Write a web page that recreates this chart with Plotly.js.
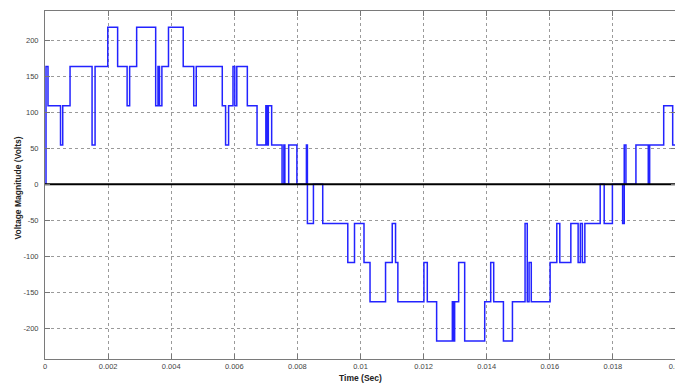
<!DOCTYPE html>
<html>
<head>
<meta charset="utf-8">
<script src="https://cdn.plot.ly/plotly-3.0.1.min.js"></script>
<style>
  html, body { margin: 0; padding: 0; overflow: hidden; background: #fff; }
  #chart { width: 676px; height: 383px; }
</style>
</head>
<body>
<div id="chart"></div>
<script>
// Inverter output: switching instants (s) and the voltage level (V) held from each instant to the next
const switchTimes = [
  0, 0.000032, 0.000095, 0.000492, 0.000562, 0.000794, 0.001492, 0.001587, 0.001990, 0.002302,
  0.002603, 0.002683, 0.002905, 0.003508, 0.003581, 0.003629, 0.003705, 0.003914, 0.004381, 0.004714,
  0.004794, 0.005619, 0.005724, 0.005819, 0.005959, 0.006016, 0.006079, 0.006413, 0.006721, 0.007000,
  0.007048, 0.007079, 0.007184, 0.007514, 0.007571, 0.007603, 0.007724, 0.007984, 0.008286, 0.008317,
  0.008508, 0.008803, 0.009597, 0.009810, 0.010111, 0.010302, 0.010794, 0.011006, 0.011111, 0.011184,
  0.012010, 0.012117, 0.012413, 0.012911, 0.012952, 0.012984, 0.013111, 0.013302, 0.013937, 0.014127,
  0.014222, 0.014530, 0.014816, 0.015216, 0.015286, 0.015343, 0.015413, 0.016010, 0.016222, 0.016317,
  0.016667, 0.016898, 0.016968, 0.017032, 0.017111, 0.017597, 0.017724, 0.017984, 0.018308, 0.018359,
  0.018413, 0.018730, 0.019121, 0.019165, 0.019610, 0.019895, 0.020000
];
const outputVolts = [
  0, 163.5, 109, 54.5, 109, 163.5, 54.5, 163.5, 218, 163.5,
  109, 163.5, 218, 109, 163.5, 109, 163.5, 218, 163.5, 109,
  163.5, 109, 54.5, 109, 163.5, 109, 163.5, 109, 54.5, 109,
  54.5, 109, 54.5, 0, 54.5, 0, 54.5, 0, 54.5, -54.5,
  0, -54.5, -109, -54.5, -109, -163.5, -109, -54.5, -109, -163.5,
  -109, -163.5, -218, -163.5, -218, -163.5, -109, -218, -163.5, -109,
  -163.5, -218, -163.5, -54.5, -163.5, -109, -163.5, -109, -54.5, -109,
  -54.5, -109, -54.5, -109, -54.5, 0, -54.5, 0, -54.5, 54.5,
  0, 54.5, 0, 54.5, 109, 54.5, 54.5
];

// Zero reference line
const zeroTime = [0, 0.02];
const zeroVolts = [0, 0];

// Axis ticks
const xTickVals = [0, 0.002, 0.004, 0.006, 0.008, 0.01, 0.012, 0.014, 0.016, 0.018, 0.02];
const xTickText = ["0", "0.002", "0.004", "0.006", "0.008", "0.01", "0.012", "0.014", "0.016", "0.018", "0.02"];
const yTickVals = [-200, -150, -100, -50, 0, 50, 100, 150, 200];
const yTickText = ["-200", "-150", "-100", "-50", "0", "50", "100", "150", "200"];

const tickFont = { family: "Liberation Sans, Arial, sans-serif", size: 7.5, color: "#444" };
const titleFont = { family: "Liberation Sans, Arial, sans-serif", size: 8.5, color: "#222", weight: "bold" };

const axisCommon = {
  ticks: "inside",
  ticklen: 5,
  tickcolor: "#777",
  tickwidth: 1,
  showline: true,
  linecolor: "#7a7a7a",
  linewidth: 1,
  mirror: "ticks",
  showgrid: true,
  gridcolor: "#9a9a9a",
  griddash: "dot",
  gridwidth: 1,
  zeroline: false,
  tickfont: tickFont,
  ticklabeloverflow: "allow",
  fixedrange: true
};

const traces = [
  {
    x: switchTimes,
    y: outputVolts,
    type: "scatter",
    mode: "lines",
    line: { shape: "hv", color: "rgb(35,35,255)", width: 1.5 },
    hoverinfo: "skip"
  },
  {
    x: zeroTime,
    y: zeroVolts,
    type: "scatter",
    mode: "lines",
    line: { color: "#000", width: 2 },
    hoverinfo: "skip"
  }
];

const layout = {
  width: 676,
  height: 383,
  margin: { l: 45, r: 0, t: 11, b: 24 },
  paper_bgcolor: "#fff",
  plot_bgcolor: "#fff",
  showlegend: false,
  xaxis: Object.assign({}, axisCommon, {
    range: [0, 0.02],
    tickmode: "array",
    tickvals: xTickVals,
    ticktext: xTickText
  }),
  yaxis: Object.assign({}, axisCommon, {
    range: [-243, 240.7],
    tickmode: "array",
    tickvals: yTickVals,
    ticktext: yTickText,
    ticklabelstandoff: 4
  }),
  annotations: [
    {
      text: "Time (Sec)",
      xref: "paper", yref: "paper",
      x: 0.5, y: 0, yshift: -19,
      xanchor: "center", yanchor: "middle",
      showarrow: false,
      font: titleFont
    },
    {
      text: "Voltage Magnitude (Volts)",
      xref: "paper", yref: "paper",
      x: 0, xshift: -27, y: 0.49,
      xanchor: "center", yanchor: "middle",
      textangle: -90,
      showarrow: false,
      font: titleFont
    }
  ]
};

Plotly.newPlot("chart", traces, layout, { displayModeBar: false, staticPlot: true });
</script>
</body>
</html>
